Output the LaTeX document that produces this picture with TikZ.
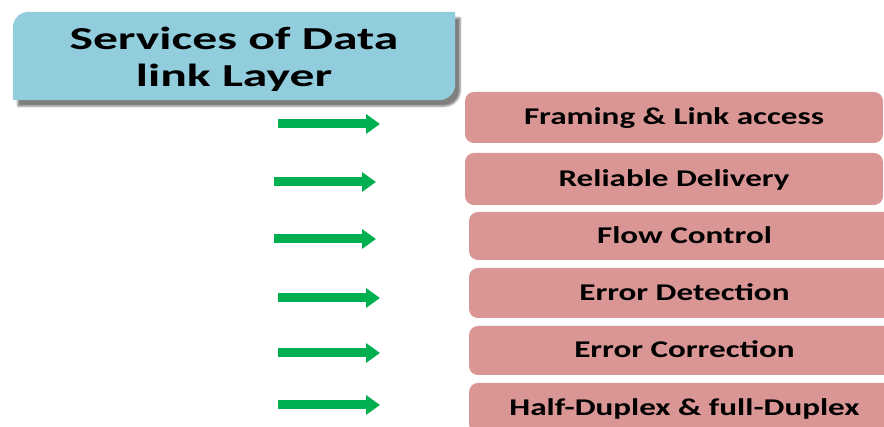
\documentclass[tikz,border=0pt]{standalone}
\usepackage{fontspec}
\newfontfamily\svcfont{Carlito}[FakeStretch=1.38]
\newfontfamily\ttlfont{Carlito}[FakeStretch=1.55]
\usepackage{tikz}
\usetikzlibrary{arrows.meta,backgrounds,shadows.blur}
\definecolor{titleblue}{RGB}{146,205,221}
\definecolor{svcpink}{RGB}{217,150,148}
\definecolor{arrgreen}{RGB}{0,176,80}
\tikzset{
  titlebox/.style={align=center, inner sep=0pt, minimum width=442pt, minimum height=88pt,
    font=\ttlfont\bfseries\fontsize{32}{37}\selectfont},
  svcbox/.style={fill=svcpink, rounded corners=9pt, inner sep=0pt, text height=17pt, text depth=2pt,
    font=\svcfont\bfseries\fontsize{24}{28}\selectfont},
  grarrow/.style={arrgreen, line width=9pt, -{Triangle[length=14pt,width=19pt]}}
}
\begin{document}
\begin{tikzpicture}[x=1pt,y=1pt]
\useasboundingbox (0,0) rectangle (884,427);
\node[titlebox] (title) at (234,368) {Services of Data\\link Layer};
\begin{scope}[on background layer]
\fill[titleblue, blur shadow={shadow xshift=5pt, shadow yshift=-6pt, shadow blur steps=6, shadow opacity=50}]
  ([yshift=-13pt]title.north west) arc[start angle=180, end angle=90, radius=16pt]
  -- ([yshift=3pt]title.north east) -- ([yshift=19pt]title.south east)
  arc[start angle=0, end angle=-90, radius=16pt] -- ([yshift=3pt]title.south west) -- cycle;
\end{scope}
\foreach \i/\x/\y/\w/\h/\txt in {
1/674/309.5/418/51/Framing \& Link access,
2/674/248/418/52/Reliable Delivery,
3/684.5/191/431/48/Flow Control,
4/684.5/134/431/50/Error Detection,
5/684.5/76.5/431/49/Error Correction,
6/684.5/19/431/50/Half-Duplex \& full-Duplex
}{
\node[svcbox, minimum width=\w pt, minimum height=\h pt] (s\i) at (\x,\y) {\txt};
}
\foreach \i/\xa/\xb/\y in {1/278/380/303, 2/274/376/245, 3/274/376/188, 4/278/380/129, 5/278/380/74, 6/278/380/22}{
\coordinate (a\i) at (\xa,\y);
\coordinate (b\i) at (\xb,\y);
\draw[grarrow] (a\i) -- (b\i);
}
\end{tikzpicture}
\end{document}
